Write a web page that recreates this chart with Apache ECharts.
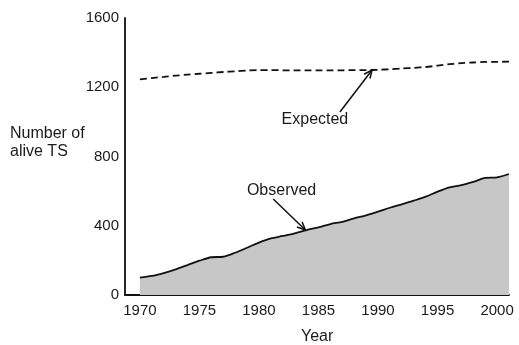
<!DOCTYPE html>
<html>
<head>
<meta charset="utf-8">
<style>
  html, body { margin: 0; padding: 0; background: #fff; }
  #chart { width: 519px; height: 345px; }
</style>
<script src="https://cdn.jsdelivr.net/npm/echarts@6/dist/echarts.min.js"></script>
</head>
<body>
<div id="chart"></div>
<script>
// Years covered by the series
const years = [1970, 1971, 1972, 1973, 1974, 1975, 1976, 1977, 1978, 1979,
               1980, 1981, 1982, 1983, 1984, 1985, 1986, 1987, 1988, 1989,
               1990, 1991, 1992, 1993, 1994, 1995, 1996, 1997, 1998, 1999,
               2000, 2001];

// Observed number of alive TS per year
const observed = [100, 110, 127, 148, 173, 198, 218, 221, 244, 273,
                  303, 327, 341, 356, 375, 391, 410, 423, 443, 460,
                  481, 504, 524, 545, 568, 597, 622, 635, 654, 676,
                  680, 699];

// Expected number of alive TS per year
const expected = [1246, 1253, 1260, 1267, 1273, 1278, 1283, 1288, 1292, 1296,
                  1299, 1299, 1298, 1297, 1297, 1297, 1298, 1298, 1299, 1299,
                  1301, 1304, 1308, 1312, 1317, 1325, 1333, 1339, 1343, 1346,
                  1347, 1348];

// Axis tick labels
const xTickLabels = [1970, 1975, 1980, 1985, 1990, 1995, 2000];
const yTickLabels = [0, 400, 800, 1200, 1600];

// Callouts: label position and arrow [tail, head] in data units
const callouts = [
  { text: 'Expected', label: [1984.7, 1011], tail: [1986.8, 1057], head: [1989.5, 1300] },
  { text: 'Observed', label: [1981.9, 601],  tail: [1981.2, 555],  head: [1983.9, 375] }
];

const FONT = '"Liberation Sans", Arial, Helvetica, sans-serif';
const TEXT = '#1a1a1a';

const observedPairs = years.map((y, i) => [y, observed[i]]);
const expectedPairs = years.map((y, i) => [y, expected[i]]);

const chart = echarts.init(document.getElementById('chart'), null, { renderer: 'canvas' });

chart.setOption({
  animation: false,
  backgroundColor: '#ffffff',
  grid: { left: 125, right: 10, top: 18, bottom: 50, containLabel: false },
  xAxis: {
    type: 'value',
    min: 1968.75,
    max: 2001,
    splitLine: { show: false },
    axisTick: { show: false },
    axisLine: { show: true, onZero: false, lineStyle: { color: '#111', width: 1.8 } },
    axisLabel: {
      customValues: xTickLabels,
      formatter: v => String(v),
      color: TEXT, fontFamily: FONT, fontSize: 15, margin: 8
    }
  },
  yAxis: {
    type: 'value',
    min: 0,
    max: 1600,
    interval: 400,
    splitLine: { show: false },
    axisTick: { show: false },
    axisLine: { show: true, lineStyle: { color: '#111', width: 1.8 } },
    axisLabel: {
      customValues: yTickLabels,
      formatter: v => String(v),
      color: TEXT, fontFamily: FONT, fontSize: 15, margin: 6
    }
  },
  graphic: [
    {
      type: 'text', left: 10, top: 125,
      style: { text: 'Number of\nalive TS', fill: TEXT, font: '16px ' + FONT, lineHeight: 18 }
    },
    {
      type: 'text', left: 301, top: 329,
      style: { text: 'Year', fill: TEXT, font: '16px ' + FONT }
    }
  ],
  series: [
    {
      name: 'Observed',
      type: 'line',
      data: observedPairs,
      smooth: 0.3,
      symbol: 'none',
      lineStyle: { color: '#111', width: 1.8 },
      areaStyle: { color: '#c7c7c7', opacity: 1 },
      z: 2
    },
    {
      name: 'Expected',
      type: 'line',
      data: expectedPairs,
      smooth: 0.3,
      symbol: 'none',
      lineStyle: { color: '#111', width: 1.8, type: [7, 4] },
      z: 3
    },
    {
      name: 'Callouts',
      type: 'custom',
      coordinateSystem: 'cartesian2d',
      data: callouts.map((c, i) => [i]),
      z: 5,
      renderItem: function (params, api) {
        const c = callouts[api.value(0)];
        const t = api.coord(c.tail);
        const h = api.coord(c.head);
        const l = api.coord(c.label);
        const ang = Math.atan2(h[1] - t[1], h[0] - t[0]);
        const len = 9, spread = 0.42;
        const a1 = [h[0] - len * Math.cos(ang - spread), h[1] - len * Math.sin(ang - spread)];
        const a2 = [h[0] - len * Math.cos(ang + spread), h[1] - len * Math.sin(ang + spread)];
        const stroke = { stroke: '#111', lineWidth: 1.5, fill: null };
        return {
          type: 'group',
          children: [
            { type: 'line', shape: { x1: t[0], y1: t[1], x2: h[0], y2: h[1] }, style: stroke },
            { type: 'polyline', shape: { points: [a1, h, a2] }, style: stroke },
            {
              type: 'text',
              style: {
                x: l[0], y: l[1], text: c.text,
                fill: TEXT, font: '16px ' + FONT,
                align: 'center', verticalAlign: 'middle'
              }
            }
          ]
        };
      }
    }
  ]
});
</script>
</body>
</html>
